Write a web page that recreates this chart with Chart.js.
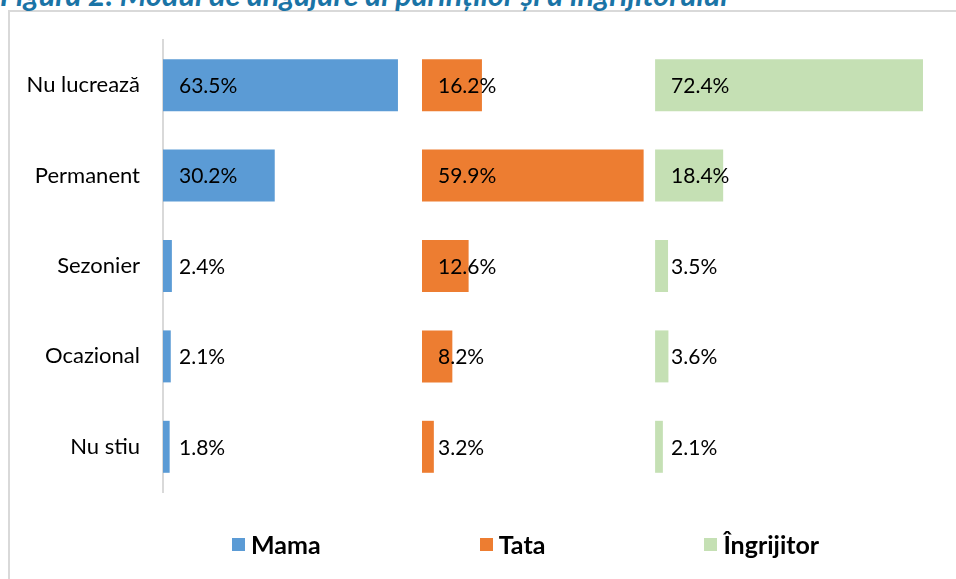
<!DOCTYPE html>
<html>
<head>
<meta charset="utf-8">
<script src="https://cdn.jsdelivr.net/npm/chart.js@4.4.1/dist/chart.umd.min.js"></script>
<style>
  html, body { margin: 0; padding: 0; background: #fff; overflow: hidden; }
  #page { position: relative; width: 956px; height: 579px; }
  #frame { position: absolute; left: 8px; top: 10px; right: 0; bottom: 0; border-left: 2px solid #d9d9d9; border-top: 2px solid #d9d9d9; }
  #title { position: absolute; left: 0; top: -21px; font: italic bold 30.5px Lato, sans-serif; line-height: 30px; color: #1a74a6; white-space: nowrap; }
  #chartBox { position: absolute; left: 0; top: 0; width: 956px; height: 579px; }
  #legend { position: absolute; left: 232px; top: 529px; display: flex; gap: 159px; font: bold 25px Lato, sans-serif; color: #000; }
  .item { display: flex; align-items: center; }
  .box { width: 13px; height: 13px; margin-right: 6px; }
</style>
</head>
<body>
<div id="page">
  <div id="frame"></div>
  <div id="title">Figura 2. Modul de angajare al părinților și a îngrijitorului</div>
  <div id="chartBox"><canvas id="chart"></canvas></div>
  <div id="legend"></div>
</div>
<script>
var categories = ['Nu lucrează', 'Permanent', 'Sezonier', 'Ocazional', 'Nu stiu'];
var seriesNames = ['Mama', 'Tata', 'Îngrijitor'];
var mama = [63.5, 30.2, 2.4, 2.1, 1.8];
var tata = [16.2, 59.9, 12.6, 8.2, 3.2];
var ingrijitor = [72.4, 18.4, 3.5, 3.6, 2.1];
var colors = ['#5b9bd5', '#ed7d31', '#c5e0b4'];
// width of each panel, in percentage points
var panelMax = [70, 63, 77];

var axisIds = ['xMama', 'xTata', 'xIngr'];

function makeAxis(max) {
  return {
    type: 'linear',
    axis: 'x',
    position: 'bottom',
    min: 0,
    max: max,
    stack: 'panels',
    stackWeight: max,
    display: false
  };
}

var scales = {
  y: {
    type: 'category',
    offset: true,
    grid: { display: false, drawTicks: false },
    border: { display: true, color: '#d9d9d9', width: 2 },
    ticks: { color: '#000', padding: 23, font: { family: 'Lato', size: 22 } },
    afterFit: function(scale) { scale.width = 163; }
  }
};
scales[axisIds[0]] = makeAxis(panelMax[0]);
scales[axisIds[1]] = makeAxis(panelMax[1]);
scales[axisIds[2]] = makeAxis(panelMax[2]);

var allData = [mama, tata, ingrijitor];
var datasets = [];
for (var i = 0; i < allData.length; i++) {
  datasets.push({
    label: seriesNames[i],
    data: allData[i],
    xAxisID: axisIds[i],
    backgroundColor: colors[i],
    grouped: false,
    barPercentage: 0.575,
    categoryPercentage: 1
  });
}

// labels at the base of every bar, like Excel "inside base"
var baseLabels = {
  id: 'baseLabels',
  afterDatasetsDraw: function(chart) {
    var ctx = chart.ctx;
    ctx.save();
    ctx.font = '21px Lato';
    ctx.fillStyle = '#000';
    ctx.textAlign = 'left';
    ctx.textBaseline = 'middle';
    chart.data.datasets.forEach(function(ds, di) {
      var meta = chart.getDatasetMeta(di);
      var x0 = meta.xScale.getPixelForValue(0);
      meta.data.forEach(function(bar, j) {
        ctx.fillText(ds.data[j].toFixed(1) + '%', x0 + 16, bar.y + 1);
      });
    });
    ctx.restore();
  }
};

var chart = new Chart(document.getElementById('chart'), {
  type: 'bar',
  data: { labels: categories, datasets: datasets },
  options: {
    indexAxis: 'y',
    responsive: true,
    maintainAspectRatio: false,
    animation: false,
    layout: { padding: { top: 40, bottom: 87, right: 16, left: 0 } },
    scales: scales,
    plugins: {
      legend: { display: false },
      tooltip: { enabled: false }
    }
  },
  plugins: [baseLabels]
});

var legend = document.getElementById('legend');
seriesNames.forEach(function(name, i) {
  var item = document.createElement('div');
  item.className = 'item';
  var box = document.createElement('div');
  box.className = 'box';
  box.style.background = colors[i];
  var txt = document.createElement('span');
  txt.textContent = name;
  item.appendChild(box);
  item.appendChild(txt);
  legend.appendChild(item);
});
</script>
</body>
</html>
